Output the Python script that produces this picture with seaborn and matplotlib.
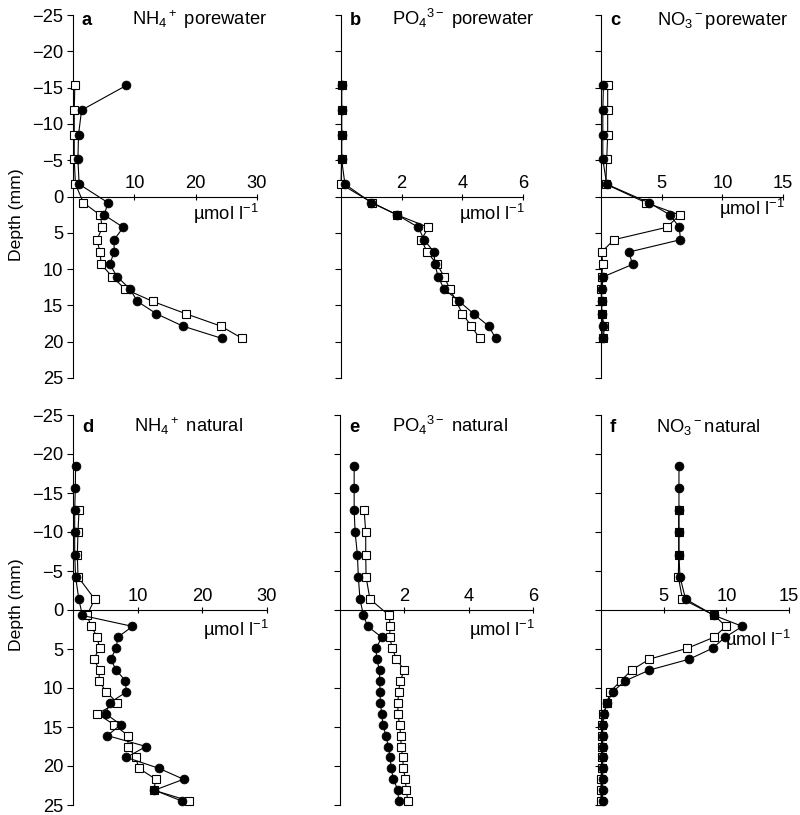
import matplotlib
matplotlib.use("Agg")
import matplotlib.pyplot as plt
import seaborn as sns

plt.rcParams['font.family'] = ['Liberation Sans', 'DejaVu Sans']
plt.rcParams['mathtext.fontset'] = 'custom'
plt.rcParams['mathtext.rm'] = 'Liberation Sans'
plt.rcParams['mathtext.it'] = 'Liberation Sans:italic'
plt.rcParams['mathtext.bf'] = 'Liberation Sans:bold'
plt.rcParams['axes.unicode_minus'] = True

# ---------------- data ----------------
depth_pore = [-15.3, -11.9, -8.5, -5.1, -1.7, 0.85, 2.55, 4.25, 5.95, 7.65, 9.35,
              11.05, 12.75, 14.45, 16.15, 17.85, 19.55]
depth_nat = [-18.5, -15.65, -12.8, -9.95, -7.1, -4.25, -1.4, 0.7, 2.1, 3.5, 4.9, 6.3,
             7.7, 9.1, 10.5, 11.9, 13.3, 14.7, 16.1, 17.5, 18.9, 20.3, 21.7, 23.1, 24.5]
depth_nat_open = [-12.8, -9.95, -7.1, -4.25, -1.4, 0.7, 2.1, 3.5, 4.9, 6.3,
                  7.7, 9.1, 10.5, 11.9, 13.3, 14.7, 16.1, 17.5, 18.9, 20.3, 21.7, 23.1, 24.5]

nh4_pore_filled = [8.7, 1.4, 0.9, 0.8, 1.0, 5.7, 5.1, 8.2, 6.7, 6.7, 6.0, 7.2, 9.3, 10.5, 13.6, 17.9, 24.3]
nh4_pore_open = [0.3, 0.2, 0.2, 0.2, 0.4, 1.7, 4.4, 4.8, 3.9, 4.4, 4.6, 6.4, 8.5, 13.0, 18.4, 24.1, 27.6]

po4_pore_filled = [0.02, 0.02, 0.02, 0.02, 0.13, 1.0, 1.86, 2.55, 2.74, 3.06, 3.1, 3.2, 3.4, 3.9, 4.37, 4.87, 5.1]
po4_pore_open = [0.02, 0.02, 0.02, 0.02, 0.0, 1.03, 1.86, 2.88, 2.65, 2.84, 3.17, 3.4, 3.59, 3.8, 4.0, 4.3, 4.57]

no3_pore_filled = [0.2, 0.15, 0.15, 0.15, 0.47, 3.95, 5.7, 6.45, 6.55, 2.3, 2.6, 0.2, 0.05, 0.05, 0.05, 0.15, 0.15]
no3_pore_open = [0.55, 0.55, 0.55, 0.47, 0.4, 3.7, 6.5, 5.4, 1.07, 0.05, 0.15, 0.05, 0.0, 0.05, 0.05, 0.27, 0.2]

nh4_nat_filled = [0.4, 0.36, 0.26, 0.26, 0.26, 0.4, 0.9, 1.45, 9.2, 6.9, 6.7, 5.8, 6.7, 8.1, 8.25,
                  5.7, 5.05, 7.4, 5.3, 11.3, 8.25, 13.3, 17.1, 12.6, 16.85]
nh4_nat_open = [0.93, 0.77, 0.67, 0.77, 3.35, 2.15, 2.85, 3.75, 4.1, 3.2, 4.1, 4.0, 5.15, 6.85,
                3.75, 6.35, 8.5, 8.5, 9.7, 10.2, 12.8, 12.5, 18.0]

po4_nat_filled = [0.44, 0.44, 0.44, 0.47, 0.54, 0.57, 0.62, 0.73, 0.86, 1.3, 1.12, 1.14, 1.23, 1.23,
                  1.25, 1.25, 1.3, 1.33, 1.43, 1.5, 1.56, 1.59, 1.66, 1.8, 1.82]
po4_nat_open = [0.75, 0.8, 0.8, 0.81, 0.93, 1.53, 1.56, 1.54, 1.63, 1.75, 2.0, 1.87, 1.82, 1.8,
                1.8, 1.85, 1.89, 1.9, 1.95, 1.97, 2.03, 2.06, 2.11]

no3_nat_filled = [6.22, 6.22, 6.22, 6.22, 6.22, 6.3, 6.75, 9.04, 11.28, 9.9, 8.9, 7.05, 3.86, 1.91,
                  0.93, 0.5, 0.24, 0.13, 0.13, 0.13, 0.13, 0.13, 0.13, 0.13, 0.13]
no3_nat_open = [6.2, 6.2, 6.2, 6.17, 6.5, 9.04, 9.97, 9.0, 6.9, 3.86, 2.45, 1.57, 0.72, 0.5,
                0.19, 0.1, 0.1, 0.05, 0.05, 0.05, 0.0, 0.0, 0.0]

letters = ['a', 'b', 'c', 'd', 'e', 'f']
titles = [r'NH$_4$$^+$ porewater', r'PO$_4$$^{3-}$ porewater', r'NO$_3$$^-$porewater',
          r'NH$_4$$^+$ natural', r'PO$_4$$^{3-}$ natural', r'NO$_3$$^-$natural']
xmaxes = [30, 6, 15, 30, 6, 15]
xticks = [[10, 20, 30], [2, 4, 6], [5, 10, 15], [10, 20, 30], [2, 4, 6], [5, 10, 15]]
yticks = [-25, -20, -15, -10, -5, 0, 5, 10, 15, 20, 25]
unit_label = r'µmol l$^{-1}$'

panels = [
    (depth_pore, nh4_pore_filled, depth_pore, nh4_pore_open),
    (depth_pore, po4_pore_filled, depth_pore, po4_pore_open),
    (depth_pore, no3_pore_filled, depth_pore, no3_pore_open),
    (depth_nat, nh4_nat_filled, depth_nat_open, nh4_nat_open),
    (depth_nat, po4_nat_filled, depth_nat_open, po4_nat_open),
    (depth_nat, no3_nat_filled, depth_nat_open, no3_nat_open),
]

# ---------------- layout (pixels) ----------------
W, H = 800, 815
rects_px = [(73, 257, 15, 378), (341, 523, 15, 378), (601, 783, 15, 378),
            (73, 267, 415, 805), (340, 533, 415, 805), (601, 789, 415, 805)]
title_dx = [59, 51, 56, 61, 52, 55]
unit_dy = [17, 17, 12, 20, 20, 30]
FS = 13.2

fig = plt.figure(figsize=(W / 100, H / 100), dpi=100)

for i, (r, pdata) in enumerate(zip(rects_px, panels)):
    x0, x1, y0, y1 = r
    ax = fig.add_axes([x0 / W, 1 - y1 / H, (x1 - x0) / W, (y1 - y0) / H])
    dF, vF, dO, vO = pdata
    sns.lineplot(x=vO, y=dO, sort=False, estimator=None, ax=ax, color='black',
                 linewidth=0.8, marker='s', markersize=5.2, markerfacecolor='white',
                 markeredgecolor='black', markeredgewidth=0.8, clip_on=False, zorder=3)
    sns.lineplot(x=vF, y=dF, sort=False, estimator=None, ax=ax, color='black',
                 linewidth=0.8, marker='o', markersize=6.4, markerfacecolor='black',
                 markeredgecolor='black', markeredgewidth=0.5, clip_on=False, zorder=4)
    ax.set_xlim(0, xmaxes[i])
    ax.set_ylim(25, -25)
    ax.set_facecolor('none')
    for s in ['right', 'bottom']:
        ax.spines[s].set_visible(False)
    ax.spines['top'].set_position(('data', 0))
    ax.spines['top'].set_linewidth(0.8)
    ax.spines['left'].set_linewidth(0.8)
    ax.xaxis.set_ticks_position('top')
    ax.set_xticks(xticks[i])
    ax.set_yticks(yticks)
    ax.tick_params(axis='x', direction='inout', length=5, width=0.8, pad=1,
                   labelsize=FS, top=True, bottom=False, labeltop=True, labelbottom=False)
    ax.tick_params(axis='y', direction='out', length=4, width=0.8, pad=3,
                   labelsize=FS, left=True, right=False, labelleft=(i % 3 == 0))
    ax.set_xlabel('')
    ax.set_ylabel('')
    ax.grid(False)
    base_dy = -10 if i < 3 else -17
    ax.annotate(letters[i], xy=(0, 1), xycoords='axes fraction', xytext=(9, base_dy),
                textcoords='offset pixels', fontsize=FS, fontweight='bold',
                ha='left', va='baseline')
    ax.annotate(titles[i], xy=(0, 1), xycoords='axes fraction', xytext=(title_dx[i], base_dy),
                textcoords='offset pixels', fontsize=FS, ha='left', va='baseline')
    ax.annotate(unit_label, xy=(1, 0), xycoords=('axes fraction', 'data'),
                xytext=(2, -unit_dy[i]), textcoords='offset pixels', fontsize=FS,
                ha='right', va='center')

fig.text(17 / W, 1 - 215 / H, 'Depth (mm)', rotation=90, ha='center', va='center', fontsize=12.6)
fig.text(17 / W, 1 - 605 / H, 'Depth (mm)', rotation=90, ha='center', va='center', fontsize=12.6)

fig.savefig('out.png', dpi=100)
